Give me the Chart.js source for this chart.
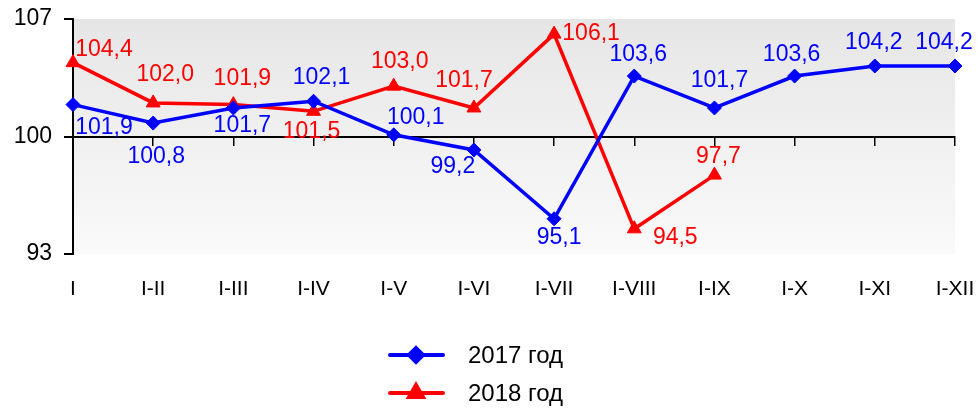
<!DOCTYPE html>
<html>
<head>
<meta charset="utf-8">
<script src="https://cdn.jsdelivr.net/npm/chart.js@4"></script>
<style>
    html, body { margin: 0; padding: 0; background: #fff; }
    #wrap { width: 977px; height: 408px; }
</style>
</head>
<body>
<div id="wrap"><canvas id="chart"></canvas></div>
<script>
// categories and values
const periods = ['I', 'I-II', 'I-III', 'I-IV', 'I-V', 'I-VI', 'I-VII', 'I-VIII', 'I-IX', 'I-X', 'I-XI', 'I-XII'];
const values2017 = [101.9, 100.8, 101.7, 102.1, 100.1, 99.2, 95.1, 103.6, 101.7, 103.6, 104.2, 104.2];
const values2018 = [104.4, 102.0, 101.9, 101.5, 103.0, 101.7, 106.1, 94.5, 97.7, null, null, null];
const yTicks = [93, 100, 107];
const seriesNames = ['2017 год', '2018 год'];

// where each value label sits relative to its point (px)
const labelOffsets2017 = [[31, 23], [3, 34], [9, 18], [8, -24], [22, -17], [-21, 17], [5, 19], [4, -21], [5, -27], [-3, -21], [-1, -23], [-11, -23]];
const labelOffsets2018 = [[31, -13], [12, -28], [9, -26], [-2, 20], [6, -24], [-10, -27], [37, 0], [41, 9], [4, -18]];

const FONT = "'Liberation Sans', Arial, sans-serif";

const noPadding = (scale) => {
    scale.paddingTop = 0;
    scale.paddingBottom = 0;
    scale.paddingLeft = 0;
    scale.paddingRight = 0;
};

const plotBackground = {
    id: 'plotBackground',
    beforeDraw(chart) {
        const { ctx, chartArea: a } = chart;
        const g = ctx.createLinearGradient(0, a.top, 0, a.bottom);
        g.addColorStop(0, '#e6e6e6');
        g.addColorStop(1, '#fafafa');
        ctx.save();
        ctx.fillStyle = g;
        ctx.fillRect(a.left, a.top, a.right - a.left, a.bottom - a.top);
        ctx.restore();
    }
};

const valueLabels = {
    id: 'valueLabels',
    afterDatasetsDraw(chart) {
        const ctx = chart.ctx;
        const offsets = [labelOffsets2017, labelOffsets2018];
        ctx.save();
        ctx.font = '23px ' + FONT;
        ctx.textAlign = 'center';
        ctx.textBaseline = 'middle';
        chart.data.datasets.forEach((ds, i) => {
            const meta = chart.getDatasetMeta(i);
            ctx.fillStyle = ds.borderColor;
            meta.data.forEach((pt, j) => {
                const v = ds.data[j];
                if (v === null || v === undefined) return;
                const off = offsets[i][j] || [0, -22];
                ctx.fillText(v.toFixed(1).replace('.', ','), pt.x + off[0], pt.y + off[1]);
            });
        });
        ctx.restore();
    }
};

const stackedLegend = {
    id: 'stackedLegend',
    afterDraw(chart) {
        const ctx = chart.ctx;
        const rows = [355, 393];
        ctx.save();
        chart.data.datasets.forEach((ds, i) => {
            const y = rows[i];
            ctx.strokeStyle = ds.borderColor;
            ctx.lineWidth = 4;
            ctx.lineCap = 'round';
            ctx.beginPath();
            ctx.moveTo(390, y);
            ctx.lineTo(443, y);
            ctx.stroke();
            ctx.fillStyle = ds.borderColor;
            Chart.helpers.drawPoint(ctx, {
                pointStyle: ds.pointStyle,
                radius: ds.pointRadius,
                borderWidth: 1,
                rotation: 0
            }, 416, y);
            ctx.fill();
            ctx.fillStyle = '#000';
            ctx.font = '24px ' + FONT;
            ctx.textAlign = 'left';
            ctx.textBaseline = 'middle';
            ctx.fillText(ds.label, 468, y + 1);
        });
        ctx.restore();
    }
};

new Chart(document.getElementById('chart'), {
    type: 'line',
    data: {
        labels: periods,
        datasets: [{
            label: seriesNames[0],
            data: values2017,
            borderColor: '#0000ff',
            backgroundColor: '#0000ff',
            borderWidth: 3.5,
            pointStyle: 'rectRot',
            pointRadius: 7,
            pointBorderWidth: 1,
            tension: 0,
            clip: false
        }, {
            label: seriesNames[1],
            data: values2018,
            borderColor: '#ff0000',
            backgroundColor: '#ff0000',
            borderWidth: 3.5,
            pointStyle: 'triangle',
            pointRadius: 8,
            pointBorderWidth: 1,
            tension: 0,
            clip: false,
            spanGaps: false
        }]
    },
    options: {
        responsive: true,
        maintainAspectRatio: false,
        animation: false,
        events: [],
        layout: { padding: { top: 19, right: 22, bottom: 106, left: 0 } },
        plugins: {
            legend: { display: false },
            tooltip: { enabled: false }
        },
        scales: {
            x: {
                position: { y: 100 },
                afterFit: noPadding,
                grid: { display: true, drawOnChartArea: false, drawTicks: true, tickLength: 8, color: '#000', lineWidth: 1.5 },
                border: { display: true, color: '#000', width: 2 },
                ticks: { display: false }
            },
            x2: {
                type: 'category',
                position: 'bottom',
                afterFit: (scale) => { noPadding(scale); scale.height = 48; },
                grid: { display: false, drawTicks: false },
                border: { display: false },
                ticks: { color: '#000', font: { family: FONT, size: 21 }, padding: 23, maxRotation: 0, autoSkip: false }
            },
            y: {
                min: 93,
                max: 107,
                afterBuildTicks: (scale) => { scale.ticks = yTicks.map(v => ({ value: v })); },
                afterFit: (scale) => { noPadding(scale); scale.width = 73; },
                grid: { display: true, drawOnChartArea: false, drawTicks: true, tickLength: 9, color: '#000', lineWidth: 2 },
                border: { display: true, color: '#000', width: 2 },
                ticks: { color: '#000', font: { family: FONT, size: 23 }, padding: 12 }
            }
        }
    },
    plugins: [plotBackground, valueLabels, stackedLegend]
});
</script>
</body>
</html>
